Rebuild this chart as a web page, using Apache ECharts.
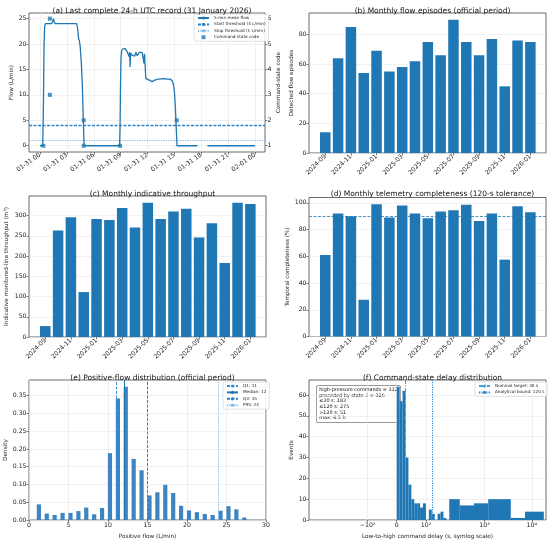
<!DOCTYPE html>
<html>
<head>
<meta charset="utf-8">
<script src="https://cdn.jsdelivr.net/npm/echarts@6/dist/echarts.min.js"></script>
<style>
html, body { margin: 0; padding: 0; background: #fff; }
#main { width: 550px; height: 543px; }
</style>
</head>
<body>
<div id="main"></div>
<script>
// (a) last 24 h record, hours after 2026-01-31 00:00 UTC
var flowHours = [0, 0.3, 0.38, 0.45, 0.52, 0.6, 1.3, 1.42, 1.5, 1.58, 1.7, 2.5, 3.5, 4.09, 4.2, 4.31, 4.4, 4.48, 4.6, 4.72, 4.8, 4.88, 4.92, 6, 7.5, 8.88,
    8.93, 8.98, 9.03, 9.1, 9.2, 9.49, 9.6, 9.75, 9.86, 9.95, 10.0, 10.05, 10.1, 10.25, 10.42, 10.55, 10.7, 10.85, 10.97, 11.1, 11.25, 11.4, 11.53, 11.6, 11.66, 11.75,
    11.8, 11.9, 12.2, 12.5, 12.8, 13.2, 13.76, 14.2, 14.5, 14.75, 14.9, 15.0, 15.1, 15.2, 15.28, 16.5, 17.56, 18.1, 18.68, 21, 24];
var flowValues = [0, 0, 8, 20, 23.6, 24, 24, 24.5, 25, 24.4, 24, 24, 24, 24, 23, 21, 20.6, 19.5, 16.5, 12, 7, 2, 0, 0, 0, 0,
    4, 12, 17, 18.6, 19, 19.1, 18.8, 18.4, 18.1, 17.5, 18.4, 15.5, 18.2, 17.8, 17.9, 17.6, 18.4, 17.7, 17.6, 18.4, 18.2, 18.3, 18.5, 16.2, 18.1, 17.8,
    13.2, 13, 12.9, 12.6, 12.9, 13.1, 13.2, 13.1, 13.1, 12.8, 12.0, 10.5, 7.5, 3.5, 0, 0, 0, null, 0, 0, 0];
var cmdHours = [0.37, 1.1, 1.1, 4.87, 4.87, 8.93, 15.25];
var cmdStates = [1, 6, 3, 2, 1, 1, 2];
var hourTicks = [0, 3, 6, 9, 12, 15, 18, 21, 24];

// (b)-(d) monthly
var months = ['2024-09', '2024-10', '2024-11', '2024-12', '2025-01', '2025-02', '2025-03', '2025-04', '2025-05',
    '2025-06', '2025-07', '2025-08', '2025-09', '2025-10', '2025-11', '2025-12', '2026-01'];
var episodes = [14, 64, 85, 54, 69, 55, 58, 62, 75, 66, 90, 75, 66, 77, 45, 76, 75];
var throughput = [27, 263, 296, 111, 292, 289, 319, 271, 332, 292, 310, 317, 246, 281, 183, 332, 329];
var completeness = [61, 92, 90, 27.5, 99, 89, 98, 92, 88.5, 93.5, 94.5, 98.5, 86.5, 92, 57.5, 97.5, 93];

// (e) positive-flow histogram
var flowBinCenters = [1.25, 2.25, 3.25, 4.25, 5.25, 6.25, 7.25, 8.25, 9.25, 10.25, 11.25, 12.25, 13.25, 14.25,
    15.25, 16.25, 17.25, 18.25, 19.25, 20.25, 21.25, 22.25, 23.25, 24.25, 25.25, 26.25, 27.25];
var flowDensity = [0.044, 0.018, 0.014, 0.020, 0.020, 0.025, 0.035, 0.016, 0.034, 0.188, 0.342, 0.375, 0.172, 0.140,
    0.069, 0.078, 0.099, 0.076, 0.040, 0.027, 0.022, 0.017, 0.014, 0.026, 0.039, 0.030, 0.007];
var flowStats = [['Q1: 11', 11], ['Median: 12', 12], ['Q3: 15', 15], ['P95: 24', 24]];

// (f) command delay histogram (s)
var delayEdges = [0, 10, 20, 30, 40, 50, 60, 70, 80, 90, 100, 110, 120, 130, 140, 150, 160, 170, 180, 300, 600, 1200, 3600, 7200, 18000];
var delayCounts = [64, 57, 62, 30, 17, 10, 8, 8, 6, 8, 0, 5, 3, 0, 3, 4, 1, 0, 10, 7, 8, 10, 1, 4];
var delayTickValues = [-100, 0, 100, 1000, 10000];
var delayTickLabels = ['\u221210\u00b2', '0', '10\u00b2', '10\u00b3', '10\u2074'];
var delayNote = 'high-pressure commands = 332\npreceded by state 3 = 326\n\u226430 s: 183\n\u2264120 s: 275\n>120 s: 51\nmax: 4.5 h';

var C0 = '#1f77b4';
var FONT = 'DejaVu Sans';

// matplotlib-like symlog (base 10, linscale 1)
var LINTHRESH = 180;
function symlog(x) {
    var c = 1 / (1 - 1 / 10);
    var a = Math.abs(x);
    if (a <= LINTHRESH) return x * c;
    return Math.sign(x) * LINTHRESH * (c + Math.log10(a / LINTHRESH));
}
function pad(n) { return (n < 10 ? '0' : '') + n; }
function range(a, b, s) { var r = []; for (var v = a; v <= b + 1e-9; v += s) r.push(+v.toFixed(6)); return r; }

function axis(o) {
    return {
        type: 'value', gridIndex: o.g, min: o.min, max: o.max, position: o.position,
        axisLine: { show: false, onZero: false },
        axisTick: { show: true, inside: false, length: 2.5, lineStyle: { color: '#333', width: 0.6 }, customValues: o.ticks },
        axisLabel: { fontSize: 6.2, color: '#222', customValues: o.ticks, formatter: o.fmt, margin: 2.5, rotate: o.rotate || 0, fontFamily: FONT },
        splitLine: { show: !!o.split, lineStyle: { color: '#e8e8e8', width: 0.6 } },
        name: o.name, nameLocation: 'middle', nameGap: o.gap, nameRotate: o.nameRotate,
        nameTextStyle: { fontSize: 5.7, color: '#222', fontFamily: FONT }
    };
}
function lineLike(name, color, type, width, gx, gy) {
    return {
        name: name, type: 'line', xAxisIndex: gx, yAxisIndex: gy, data: [], symbol: 'none', color: color,
        itemStyle: { color: color }, lineStyle: { color: color, width: width, type: type }
    };
}
function withMark(s, item) {
    item.lineStyle = { color: s.color, width: s.lineStyle.width, type: s.lineStyle.type };
    s.markLine = { silent: true, symbol: 'none', label: { show: false }, animation: false,
        lineStyle: item.lineStyle, data: [item] };
    return s;
}
function legendBox(names, left, top) {
    return { data: names, orient: 'vertical', left: left, top: top, itemWidth: 11, itemHeight: 4, itemGap: 2.4,
        textStyle: { fontSize: 4.2, color: '#222', fontFamily: FONT }, backgroundColor: 'rgba(255,255,255,0.85)',
        borderColor: '#ccc', borderWidth: 0.6, borderRadius: 2, padding: [2, 3], selectedMode: false, symbolKeepAspect: true };
}

var grids = [
    { left: 29, top: 13, width: 236, height: 139 },
    { left: 309, top: 13, width: 237, height: 140 },
    { left: 29, top: 196, width: 237, height: 141 },
    { left: 309, top: 197.5, width: 237, height: 139 },
    { left: 29, top: 380, width: 237, height: 140 },
    { left: 309, top: 380, width: 237, height: 140 }
].map(function (g) { return Object.assign({ show: true, borderColor: '#444', borderWidth: 0.8, backgroundColor: 'transparent' }, g); });

var titles = [
    ['(a) Last complete 24-h UTC record (31 January 2026)', 147, 2],
    ['(b) Monthly flow episodes (official period)', 427.5, 2],
    ['(c) Monthly indicative throughput', 147.5, 185.5],
    ['(d) Monthly telemetry completeness (120-s tolerance)', 427.5, 185.5],
    ['(e) Positive-flow distribution (official period)', 147.5, 369],
    ['(f) Command-state delay distribution', 427.5, 369]
].map(function (t) {
    return { text: t[0], left: t[1], top: t[2], textAlign: 'center',
        textStyle: { fontSize: 7.5, fontWeight: 'normal', color: '#111', fontFamily: FONT } };
});

var monthTicks = range(0, 16, 2);
function monthFmt(v) { return months[Math.round(v)]; }
var MMIN = -1.27, MMAX = 17.22;

var xAxes = [
    axis({ g: 0, min: -1.23, max: 25.1, ticks: hourTicks, split: true, rotate: 35,
        fmt: function (v) { var h = Math.round(v); return h >= 24 ? '02-01 ' + pad(h - 24) : '01-31 ' + pad(h); } }),
    axis({ g: 1, min: MMIN, max: MMAX, ticks: monthTicks, rotate: 45, fmt: monthFmt }),
    axis({ g: 2, min: MMIN, max: MMAX, ticks: monthTicks, rotate: 45, fmt: monthFmt }),
    axis({ g: 3, min: MMIN, max: MMAX, ticks: monthTicks, rotate: 45, fmt: monthFmt }),
    axis({ g: 4, min: 0, max: 30, ticks: range(0, 30, 5), split: true, name: 'Positive flow (L/min)', gap: 14,
        fmt: function (v) { return String(Math.round(v)); } }),
    axis({ g: 5, min: symlog(-1000), max: symlog(20000), ticks: delayTickValues.map(symlog), split: true,
        name: 'Low-to-high command delay (s, symlog scale)', gap: 14,
        fmt: function (v) {
            var best = 0;
            delayTickValues.forEach(function (t, i) { if (Math.abs(symlog(t) - v) < Math.abs(symlog(delayTickValues[best]) - v)) best = i; });
            return delayTickLabels[best];
        } })
];
var yAxes = [
    axis({ g: 0, min: -1.23, max: 26.1, ticks: range(0, 25, 5), split: true, name: 'Flow (L/min)', gap: 14,
        fmt: function (v) { return String(Math.round(v)); } }),
    axis({ g: 1, min: 0, max: 94.5, ticks: range(0, 80, 20), split: true, name: 'Detected flow episodes', gap: 14.5,
        fmt: function (v) { return String(Math.round(v)); } }),
    axis({ g: 2, min: 0, max: 348.6, ticks: range(0, 300, 50), split: true, name: 'Indicative monitored-line throughput (m\u00b3)', gap: 19,
        fmt: function (v) { return String(Math.round(v)); } }),
    axis({ g: 3, min: 0, max: 104, ticks: range(0, 100, 20), split: true, name: 'Temporal completeness (%)', gap: 18,
        fmt: function (v) { return String(Math.round(v)); } }),
    axis({ g: 4, min: 0, max: 0.394, ticks: range(0, 0.35, 0.05), split: true, name: 'Density', gap: 20.5,
        fmt: function (v) { return v.toFixed(2); } }),
    axis({ g: 5, min: 0, max: 67.2, ticks: range(0, 60, 10), split: true, name: 'Events', gap: 14.5,
        fmt: function (v) { return String(Math.round(v)); } }),
    axis({ g: 0, min: 1 + (-1.23) / 5, max: 1 + 26.1 / 5, ticks: range(1, 6, 1), position: 'right',
        name: 'Command-state code', gap: 10.5, nameRotate: 90, fmt: function (v) { return String(Math.round(v)); } })
];

var series = [
    {
        name: '5-min mean flow', type: 'line', xAxisIndex: 0, yAxisIndex: 0, symbol: 'none', showSymbol: false,
        connectNulls: false, color: C0,
        lineStyle: { color: C0, width: 1.3 }, itemStyle: { color: C0 },
        data: flowHours.map(function (h, i) { return [h, flowValues[i]]; }), z: 5
    },
    withMark(lineLike('Start threshold (4 L/min)', '#2b86d0', [3, 1.5], 1.3, 0, 0), { yAxis: 4 }),
    withMark(lineLike('Stop threshold (1 L/min)', '#86b9e4', [1.2, 1.2], 1.2, 0, 0), { yAxis: 1 }),
    {
        name: 'Command-state code', type: 'scatter', xAxisIndex: 0, yAxisIndex: 6, symbol: 'rect', symbolSize: 4, color: C0,
        symbolKeepAspect: true, itemStyle: { color: C0 }, data: cmdHours.map(function (h, i) { return [h, cmdStates[i]]; }), z: 6
    },
    {
        type: 'bar', xAxisIndex: 1, yAxisIndex: 1, barWidth: 10.5, itemStyle: { color: C0 },
        data: episodes.map(function (v, i) { return [i, v]; })
    },
    {
        type: 'bar', xAxisIndex: 2, yAxisIndex: 2, barWidth: 10.5, itemStyle: { color: C0 },
        data: throughput.map(function (v, i) { return [i, v]; })
    },
    {
        type: 'bar', xAxisIndex: 3, yAxisIndex: 3, barWidth: 10.5, itemStyle: { color: C0 },
        data: completeness.map(function (v, i) { return [i, v]; }),
        markLine: { silent: true, symbol: 'none', label: { show: false }, animation: false,
            lineStyle: { color: C0, width: 0.8, type: [3, 1.5] }, data: [{ yAxis: 90 }] }
    },
    {
        type: 'bar', xAxisIndex: 4, yAxisIndex: 4, barWidth: 4.2, itemStyle: { color: '#3d84c0' },
        data: flowBinCenters.map(function (c, i) { return [c, flowDensity[i]]; })
    },
    withMark(lineLike(flowStats[0][0], '#3a8fd6', [3, 1.5], 1, 4, 4), { xAxis: flowStats[0][1] }),
    withMark(lineLike(flowStats[1][0], C0, 'solid', 1, 4, 4), { xAxis: flowStats[1][1] }),
    withMark(lineLike(flowStats[2][0], '#2a80cc', [3, 1.5], 1, 4, 4), { xAxis: flowStats[2][1] }),
    withMark(lineLike(flowStats[3][0], '#86b9e4', [1.2, 1.2], 1, 4, 4), { xAxis: flowStats[3][1] }),
    {
        type: 'custom', xAxisIndex: 5, yAxisIndex: 5,
        data: delayCounts.map(function (n, i) { return [symlog(delayEdges[i]), symlog(delayEdges[i + 1]), n]; }),
        encode: { x: [0, 1], y: 2 },
        renderItem: function (params, api) {
            var n = api.value(2);
            if (!n) return null;
            var p0 = api.coord([api.value(0), n]);
            var p1 = api.coord([api.value(1), 0]);
            return { type: 'rect', shape: { x: p0[0], y: p0[1], width: p1[0] - p0[0], height: p1[1] - p0[1] },
                style: { fill: C0 } };
        }
    },
    withMark(lineLike('Nominal target: 30 s', '#4a9ad8', [4, 1.5, 1, 1.5], 1, 5, 5), { xAxis: symlog(30) }),
    withMark(lineLike('Analytical bound: 120 s', '#2b86d0', [1.2, 1.2], 1, 5, 5), { xAxis: symlog(120) })
];

var myChart = echarts.init(document.getElementById('main'), null, { renderer: 'canvas' });
myChart.setOption({
    animation: false,
    backgroundColor: '#fff',
    textStyle: { fontFamily: FONT },
    title: titles,
    grid: grids,
    xAxis: xAxes,
    yAxis: yAxes,
    legend: [
        legendBox(['5-min mean flow', 'Start threshold (4 L/min)', 'Stop threshold (1 L/min)',
            { name: 'Command-state code', icon: 'path://M0 0H10V10H0Z' }], 194, 14),
        legendBox(flowStats.map(function (s) { return s[0]; }), 223, 382),
        legendBox(['Nominal target: 30 s', 'Analytical bound: 120 s'], 475, 382)
    ],
    graphic: [{
        type: 'text', left: 316, top: 385,
        style: { text: delayNote, font: '4.9px "DejaVu Sans"', fill: '#111', lineHeight: 5.6,
            backgroundColor: '#fff', borderColor: '#777', borderWidth: 0.7, borderRadius: 2, padding: [1.5, 2.5] }
    }],
    series: series
});
</script>
</body>
</html>
